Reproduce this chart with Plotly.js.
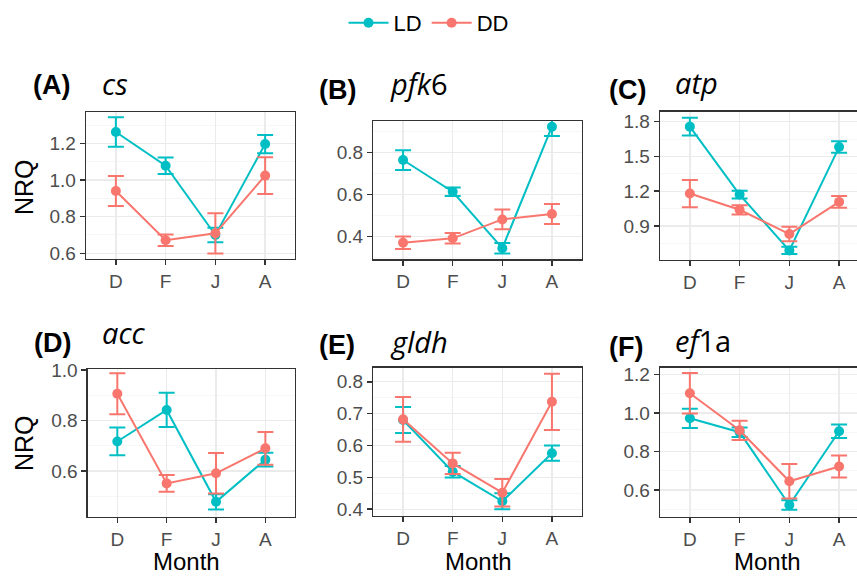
<!DOCTYPE html>
<html>
<head>
<meta charset="utf-8">
<script src="https://cdn.plot.ly/plotly-3.0.1.min.js"></script>
<style>
html,body{margin:0;padding:0;background:#fff;overflow:hidden;}
#chart{width:857px;height:576px;}
</style>
</head>
<body>
<div id="chart"></div>
<script>
// ---- data ----
const months = ['D', 'F', 'J', 'A'];
const seriesNames = ['LD', 'DD'];

const csLD = [1.262, 1.078, 0.700, 1.196];
const csLDerr = [0.080, 0.045, 0.040, 0.050];
const csDD = [0.940, 0.671, 0.709, 1.024];
const csDDerr = [0.082, 0.031, 0.110, 0.100];

const pfkLD = [0.765, 0.614, 0.345, 0.924];
const pfkLDerr = [0.047, 0.020, 0.025, 0.045];
const pfkDD = [0.371, 0.392, 0.482, 0.508];
const pfkDDerr = [0.030, 0.025, 0.047, 0.048];

const atpLD = [1.757, 1.171, 0.690, 1.581];
const atpLDerr = [0.077, 0.033, 0.032, 0.050];
const atpDD = [1.180, 1.040, 0.831, 1.108];
const atpDDerr = [0.118, 0.040, 0.062, 0.050];

const accLD = [0.717, 0.842, 0.478, 0.645];
const accLDerr = [0.055, 0.068, 0.030, 0.027];
const accDD = [0.906, 0.551, 0.591, 0.690];
const accDDerr = [0.081, 0.033, 0.080, 0.065];

const gldhLD = [0.680, 0.518, 0.425, 0.576];
const gldhLDerr = [0.041, 0.018, 0.025, 0.024];
const gldhDD = [0.682, 0.544, 0.452, 0.737];
const gldhDDerr = [0.070, 0.033, 0.043, 0.088];

const ef1aLD = [0.972, 0.900, 0.522, 0.905];
const ef1aLDerr = [0.050, 0.025, 0.025, 0.035];
const ef1aDD = [1.102, 0.910, 0.645, 0.722];
const ef1aDDerr = [0.105, 0.050, 0.090, 0.057];

const panelLetters = ['(A)', '(B)', '(C)', '(D)', '(E)', '(F)'];
const geneNames = ['<i>cs</i>', '<i>pfk</i>6', '<i>atp</i>', '<i>acc</i>', '<i>gldh</i>', '<i>ef</i>1a'];
const yTitle = 'NRQ';
const xTitle = 'Month';

// ---- layout helpers ----
const W = 857, H = 576;
const px = v => v / W;
const py = v => 1 - v / H;
const colLD = '#00BFC4', colDD = '#F8766D';

const panels = [
  {ld: csLD, lde: csLDerr, dd: csDD, dde: csDDerr, box: [86, 295, 112, 259], yr: [0.569, 1.371], dt: 0.2, xr: [-0.6, 3.6],
   lab: [31, 85], gene: [100, 83]},
  {ld: pfkLD, lde: pfkLDerr, dd: pfkDD, dde: pfkDDerr, box: [373.3, 581.7, 121, 259.3], yr: [0.292, 0.951], dt: 0.2, xr: [-0.6, 3.6],
   lab: [317, 90], gene: [388, 83]},
  {ld: atpLD, lde: atpLDerr, dd: atpDD, dde: atpDDerr, box: [660, 857, 111.7, 260], yr: [0.607, 1.886], dt: 0.3, xr: [-0.6, 3.36],
   lab: [607, 90], gene: [673, 82]},
  {ld: accLD, lde: accLDerr, dd: accDD, dde: accDDerr, box: [87.7, 295, 369.3, 516.7], yr: [0.419, 1.003], dt: 0.2, xr: [-0.6, 3.6],
   lab: [32, 343], gene: [100, 332]},
  {ld: gldhLD, lde: gldhLDerr, dd: gldhDD, dde: gldhDDerr, box: [373.3, 581.7, 367.7, 516], yr: [0.379, 0.844], dt: 0.1, xr: [-0.6, 3.6],
   lab: [317, 345], gene: [388, 341]},
  {ld: ef1aLD, lde: ef1aLDerr, dd: ef1aDD, dde: ef1aDDerr, box: [660, 857, 367.7, 516.7], yr: [0.461, 1.235], dt: 0.2, xr: [-0.6, 3.36],
   lab: [607, 347], gene: [673, 340]}
];

const traces = [];
const layout = {
  width: W, height: H,
  margin: {l: 0, r: 0, t: 0, b: 0},
  paper_bgcolor: '#ffffff',
  plot_bgcolor: '#ffffff',
  font: {family: '"Liberation Sans", Arial, sans-serif', color: '#000'},
  showlegend: true,
  legend: {
    orientation: 'h', x: 0.5, xanchor: 'center', y: py(23), yanchor: 'middle',
    font: {size: 22, color: '#000'}, itemwidth: 40, traceorder: 'normal',
    bgcolor: 'rgba(0,0,0,0)'
  },
  annotations: []
};

panels.forEach((p, i) => {
  const xa = 'x' + (i ? i + 1 : ''), ya = 'y' + (i ? i + 1 : '');
  const xk = 'xaxis' + (i ? i + 1 : ''), yk = 'yaxis' + (i ? i + 1 : '');
  [[p.ld, p.lde, colLD, seriesNames[0]], [p.dd, p.dde, colDD, seriesNames[1]]].forEach(s => {
    traces.push({
      type: 'scatter', mode: 'lines+markers',
      x: months, y: s[0], xaxis: xa, yaxis: ya,
      name: s[3], legendgroup: s[3], showlegend: i === 0,
      line: {color: s[2], width: 2},
      marker: {color: s[2], size: 10},
      error_y: {type: 'data', array: s[1], visible: true, color: s[2], thickness: 2, width: 8},
      cliponaxis: true
    });
  });
  layout[xk] = {
    domain: [px(p.box[0]), Math.min(1, px(p.box[1]))],
    anchor: ya, type: 'category', categoryorder: 'array', categoryarray: months,
    range: p.xr, fixedrange: true,
    showline: true, mirror: true, linecolor: '#333333', linewidth: 1.3,
    ticks: 'outside', ticklen: 5, tickwidth: 1.6, tickcolor: '#333333',
    tickfont: {size: 19, color: '#4d4d4d'},
    showgrid: true, gridcolor: '#ebebeb', gridwidth: 1.4,
    zeroline: false
  };
  layout[yk] = {
    domain: [py(p.box[3]), py(p.box[2])],
    anchor: xa, range: p.yr, fixedrange: true,
    tick0: 0, dtick: p.dt, tickformat: '.1f',
    showline: true, mirror: true, linecolor: '#333333', linewidth: 1.3,
    ticks: 'outside', ticklen: 5, tickwidth: 1.6, tickcolor: '#333333',
    tickfont: {size: 19, color: '#4d4d4d'},
    showgrid: true, gridcolor: '#ebebeb', gridwidth: 1.4,
    minor: {showgrid: true, gridcolor: '#f4f4f4', gridwidth: 0.8, dtick: p.dt / 2, tick0: 0},
    zeroline: false
  };
  layout.annotations.push({
    xref: 'paper', yref: 'paper', x: px(p.lab[0]), y: py(p.lab[1]),
    xanchor: 'left', yanchor: 'middle', showarrow: false,
    text: '<b>' + panelLetters[i] + '</b>',
    font: {size: 27, color: '#000', family: '"Liberation Sans", Arial, sans-serif'}
  });
  layout.annotations.push({
    xref: 'paper', yref: 'paper', x: px(p.gene[0]), y: py(p.gene[1]),
    xanchor: 'left', yanchor: 'middle', showarrow: false,
    text: geneNames[i],
    font: {size: 29, color: '#000', family: '"Open Sans", sans-serif'}
  });
  if (i === 0 || i === 3) {
    layout.annotations.push({
      xref: 'paper', yref: 'paper', x: px(24), y: py(i === 0 ? 187 : 443),
      xanchor: 'center', yanchor: 'middle', showarrow: false, textangle: -90,
      text: yTitle, font: {size: 25, color: '#000'}
    });
  }
  if (i >= 3) {
    const cx = i === 3 ? 186 : (i === 4 ? 479 : 767);
    layout.annotations.push({
      xref: 'paper', yref: 'paper', x: px(cx), y: 0,
      xanchor: 'center', yanchor: 'bottom', showarrow: false, borderpad: 0,
      text: xTitle, font: {size: 24, color: '#000'}
    });
  }
});

Plotly.newPlot('chart', traces, layout, {displayModeBar: false, staticPlot: true});
</script>
</body>
</html>
